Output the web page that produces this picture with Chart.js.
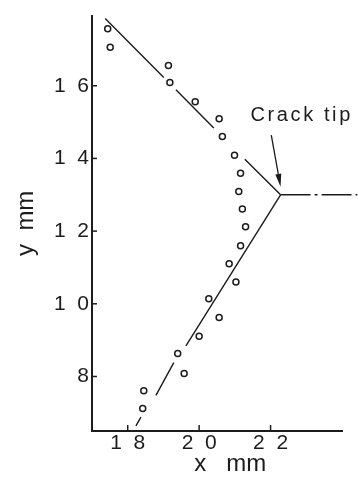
<!DOCTYPE html>
<html><head><meta charset="utf-8">
<script src="https://cdn.jsdelivr.net/npm/chart.js@4.4.1/dist/chart.umd.min.js"></script>
<style>html,body{margin:0;padding:0;background:#fff}#wrap{width:358px;height:479px;position:relative}</style>
</head><body><div id="wrap"><canvas id="c"></canvas></div>
<script>
// measured circles (x mm, y mm)
const circleX = [17.44, 17.51, 19.14, 19.18, 19.89, 20.56, 20.65, 20.99, 21.16, 21.11, 21.21, 21.30, 21.16, 20.84, 21.03, 20.27, 20.56, 20.00, 19.40, 19.58, 18.45, 18.42];
const circleY = [17.57, 17.06, 16.56, 16.09, 15.56, 15.09, 14.60, 14.09, 13.59, 13.09, 12.61, 12.12, 11.60, 11.10, 10.60, 10.14, 9.62, 9.11, 8.63, 8.08, 7.61, 7.12];
// crack faces (broken straight lines, null = gap)
const upperX = [17.37, 19.01, 19.18, 19.35, 20.41, 20.85, 21.28, 22.28];
const upperY = [17.85, 16.23, null, 15.89, 14.84, null, 13.98, 13.00];
const lowerX = [22.28, 19.63, 19.46, 19.29, 18.79, 18.58, 18.37, 18.23];
const lowerY = [13.00, 8.84, null, 8.38, 7.48, null, 6.88, 6.64];
// crack extension (dash-dot)
const extX = [22.28, 24.43];
const extY = [13.00, 13.00];
// ticks
const xTicks = [18, 20, 22];
const xTickLabels = ['1  8', '2  0', '2  2'];
const yTicks = [8, 10, 12, 14, 16];
const yTickLabels = ['8', '1  0', '1  2', '1  4', '1  6'];
const xTitle = '    x   mm';
const yTitle = 'y  mm';
// annotation
const noteText = 'Crack tip';
const notePos = [21.44, 15.19];
const arrowFrom = [22.02, 14.64];
const arrowTo = [22.28, 13.22];

const INK = '#1c1c1c';
const FONT = "'Liberation Sans', Arial, sans-serif";

const toPts = (xs, ys) => xs.map((x, i) => ({x: x, y: ys[i]}));

const annot = {
  id: 'annot',
  afterDatasetsDraw(chart) {
    const ctx = chart.ctx, xs = chart.scales.x, ys = chart.scales.y, a = chart.chartArea;
    ctx.save();
    ctx.strokeStyle = INK; ctx.fillStyle = INK; ctx.lineWidth = 1.5;
    // inward tick marks
    ys.ticks.forEach(t => {
      const p = ys.getPixelForValue(t.value);
      ctx.beginPath(); ctx.moveTo(a.left, p); ctx.lineTo(a.left + 5, p); ctx.stroke();
    });
    xs.ticks.forEach(t => {
      const p = xs.getPixelForValue(t.value);
      ctx.beginPath(); ctx.moveTo(p, a.bottom); ctx.lineTo(p, a.bottom - 6); ctx.stroke();
    });
    // arrow
    const x1 = xs.getPixelForValue(arrowFrom[0]), y1 = ys.getPixelForValue(arrowFrom[1]);
    const x2 = xs.getPixelForValue(arrowTo[0]), y2 = ys.getPixelForValue(arrowTo[1]);
    const ang = Math.atan2(y2 - y1, x2 - x1);
    const L = 13, W = 3;
    const bx = x2 - L * Math.cos(ang), by = y2 - L * Math.sin(ang);
    ctx.lineWidth = 1.3;
    ctx.beginPath(); ctx.moveTo(x1, y1); ctx.lineTo(bx, by); ctx.stroke();
    ctx.beginPath();
    ctx.moveTo(x2, y2);
    ctx.lineTo(bx + W * Math.sin(ang), by - W * Math.cos(ang));
    ctx.lineTo(bx - W * Math.sin(ang), by + W * Math.cos(ang));
    ctx.closePath(); ctx.fill();
    // label
    ctx.font = "20px 'Liberation Sans', Arial, sans-serif";
    try { ctx.letterSpacing = '2.6px'; } catch (e) {}
    ctx.textAlign = 'left'; ctx.textBaseline = 'middle';
    ctx.fillText(noteText, xs.getPixelForValue(notePos[0]), ys.getPixelForValue(notePos[1]));
    ctx.restore();
  }
};

new Chart(document.getElementById('c'), {
  type: 'scatter',
  data: {
    datasets: [
      { data: toPts(upperX, upperY), showLine: true, spanGaps: false, borderColor: INK, borderWidth: 1.4, pointRadius: 0, fill: false },
      { data: toPts(lowerX, lowerY), showLine: true, spanGaps: false, borderColor: INK, borderWidth: 1.4, pointRadius: 0, fill: false },
      { data: toPts(extX, extY), showLine: true, borderColor: INK, borderWidth: 1.4, borderDash: [30, 4, 3, 4], pointRadius: 0, fill: false, clip: false },
      { data: toPts(circleX, circleY), showLine: false, pointRadius: 3, pointBorderWidth: 1.5, pointBorderColor: INK, pointBackgroundColor: 'rgba(0,0,0,0)' }
    ]
  },
  options: {
    responsive: true, maintainAspectRatio: false, animation: false,
    layout: { padding: { left: 0, right: 16, top: 10, bottom: 0 } },
    plugins: { legend: { display: false }, tooltip: { enabled: false } },
    scales: {
      x: {
        type: 'linear', min: 17, max: 24,
        afterBuildTicks: s => { s.ticks = xTicks.map(v => ({value: v})); },
        afterFit: s => { s.height = 48; },
        grid: { display: false, drawTicks: false },
        border: { display: true, color: INK, width: 2 },
        ticks: { padding: 0, color: INK, font: { family: FONT, size: 21 }, callback: (v) => xTickLabels[xTicks.indexOf(v)] ?? '' },
        title: { display: true, text: xTitle, color: INK, font: { family: FONT, size: 24 }, padding: { top: 0, bottom: 0 } }
      },
      y: {
        type: 'linear', min: 6.5, max: 17.93,
        afterBuildTicks: s => { s.ticks = yTicks.map(v => ({value: v})); },
        afterFit: s => { s.width = 92; },
        grid: { display: false, drawTicks: false },
        border: { display: true, color: INK, width: 2 },
        ticks: { padding: 3, color: INK, font: { family: FONT, size: 21 }, callback: (v) => yTickLabels[yTicks.indexOf(v)] ?? '' },
        title: { display: true, text: yTitle, color: INK, font: { family: FONT, size: 24 }, padding: { top: 12, bottom: 0 } }
      }
    }
  },
  plugins: [annot]
});
</script>
</body></html>
